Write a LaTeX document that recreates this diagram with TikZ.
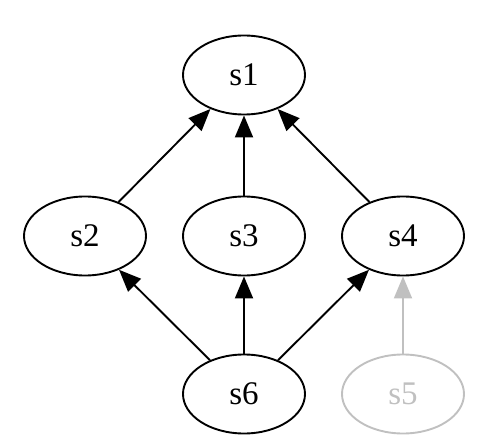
\documentclass[tikz,border=0pt]{standalone}
\usepackage{fontspec}
\setmainfont{Liberation Serif}
\usetikzlibrary{shapes.geometric,arrows.meta}
\definecolor{faded}{RGB}{192,192,192}
\tikzset{
  state/.style={ellipse,draw=black,line width=1.9pt,minimum width=122pt,minimum height=79pt,inner sep=0pt,font=\fontsize{33}{33}\selectfont},
  fadedstate/.style={state,draw=faded,text=faded},
  edge/.style={line width=1.9pt,-{Triangle[length=22pt,width=18pt]}},
  fadededge/.style={edge,draw=faded,fill=faded}
}
\begin{document}
\begin{tikzpicture}[x=1pt,y=-1pt]
\useasboundingbox (0,0) rectangle (477,441);
\node[state] (s1) at (244,75) {s1};
\node[state] (s2) at (85,236) {s2};
\node[state] (s3) at (244,236) {s3};
\node[state] (s4) at (403,236) {s4};
\node[state] (s6) at (244,394) {s6};
\node[fadedstate] (s5) at (403,394) {s5};
\draw[edge] (s2) -- (s1);
\draw[edge] (s3) -- (s1);
\draw[edge] (s4) -- (s1);
\draw[edge] (s6) -- (s2);
\draw[edge] (s6) -- (s3);
\draw[edge] (s6) -- (s4);
\draw[fadededge] (s5) -- (s4);
\end{tikzpicture}
\end{document}
